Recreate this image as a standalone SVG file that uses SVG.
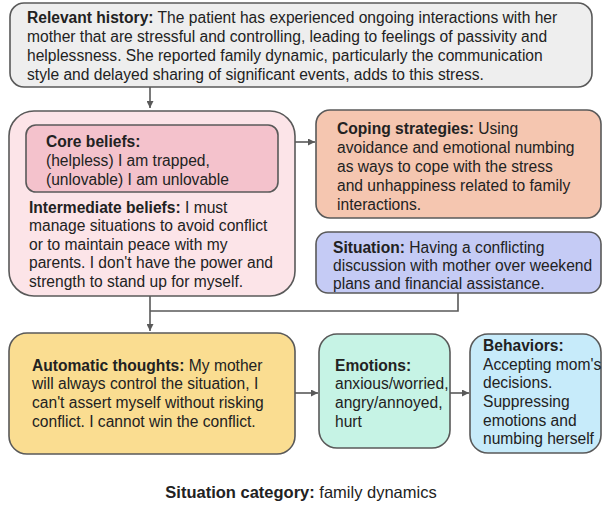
<svg xmlns="http://www.w3.org/2000/svg" width="603" height="506" viewBox="0 0 603 506">
<style>
text{font-family:"Liberation Sans",Arial,sans-serif;font-size:15.6px;fill:#222}
.b{font-weight:bold}
.box{stroke:#595959;stroke-width:1.6}
.c{stroke:#595959;stroke-width:1.6;fill:none}
</style>
<defs><marker id="ah" viewBox="0 0 10 10" refX="10" refY="5" markerWidth="7" markerHeight="7" orient="auto" markerUnits="userSpaceOnUse"><path d="M0,0L10,5L0,10z" fill="#595959"/></marker></defs>
<rect width="603" height="506" fill="#fff"/>
<g id="connectors">
<path class="c" d="M150,87V108" marker-end="url(#ah)"/>
<path class="c" d="M295,142H315" marker-end="url(#ah)"/>
<path class="c" d="M150,296V331" marker-end="url(#ah)"/>
<path class="c" d="M458,293V311H150"/>
<path class="c" d="M295,393H318" marker-end="url(#ah)"/>
<path class="c" d="M450,393H469" marker-end="url(#ah)"/>
</g>
<g id="history"><rect class="box" x="10" y="3" width="582" height="84" rx="14" fill="#eeeeee"/>
<text x="27" y="23"><tspan class="b">Relevant history:</tspan> The patient has experienced ongoing interactions with her</text>
<text x="27" y="42">mother that are stressful and controlling, leading to feelings of passivity and</text>
<text x="27" y="61">helplessness. She reported family dynamic, particularly the communication</text>
<text x="27" y="80">style and delayed sharing of significant events, adds to this stress.</text></g>
<g id="beliefs"><rect class="box" x="9" y="111" width="286" height="185" rx="25" fill="#fce4e8"/>
<text x="29" y="213"><tspan class="b">Intermediate beliefs:</tspan> I must</text>
<text x="29" y="231">manage situations to avoid conflict</text>
<text x="29" y="250">or to maintain peace with my</text>
<text x="29" y="268">parents. I don't have the power and</text>
<text x="29" y="287">strength to stand up for myself.</text></g>
<g id="core"><rect class="box" x="26" y="125" width="252" height="67" rx="10" fill="#f4c2cc"/>
<text x="46" y="147" class="b">Core beliefs:</text>
<text x="46" y="166">(helpless) I am trapped,</text>
<text x="46" y="185">(unlovable) I am unlovable</text></g>
<g id="coping"><rect class="box" x="316" y="110" width="285" height="108" rx="14" fill="#f5c6b0"/>
<text x="337" y="134"><tspan class="b">Coping strategies:</tspan> Using</text>
<text x="337" y="153">avoidance and emotional numbing</text>
<text x="337" y="172">as ways to cope with the stress</text>
<text x="337" y="191">and unhappiness related to family</text>
<text x="337" y="210">interactions.</text></g>
<g id="situation"><rect class="box" x="316" y="232" width="285" height="61" rx="12" fill="#c5cbf5"/>
<text x="333" y="253"><tspan class="b">Situation:</tspan> Having a conflicting</text>
<text x="333" y="271">discussion with mother over weekend</text>
<text x="333" y="289">plans and financial assistance.</text></g>
<g id="automatic"><rect class="box" x="9" y="333" width="286" height="121" rx="18" fill="#fadd91"/>
<text x="32" y="371"><tspan class="b">Automatic thoughts:</tspan> My mother</text>
<text x="32" y="389">will always control the situation, I</text>
<text x="32" y="408">can't assert myself without risking</text>
<text x="32" y="427">conflict. I cannot win the conflict.</text></g>
<g id="emotions"><rect class="box" x="319" y="334" width="131" height="114" rx="18" fill="#c6f3e5"/>
<text x="335" y="371" class="b">Emotions:</text>
<text x="335" y="389">anxious/worried,</text>
<text x="335" y="408">angry/annoyed,</text>
<text x="335" y="427">hurt</text></g>
<g id="behaviors"><rect class="box" x="470" y="334" width="131" height="119" rx="18" fill="#c7ebfa"/>
<text x="483" y="351" class="b">Behaviors:</text>
<text x="483" y="370">Accepting mom's</text>
<text x="483" y="388">decisions.</text>
<text x="483" y="407">Suppressing</text>
<text x="483" y="426">emotions and</text>
<text x="483" y="444">numbing herself</text></g>
<text x="301" y="498" text-anchor="middle" style="font-size:16.5px"><tspan class="b">Situation category:</tspan> family dynamics</text>
</svg>
